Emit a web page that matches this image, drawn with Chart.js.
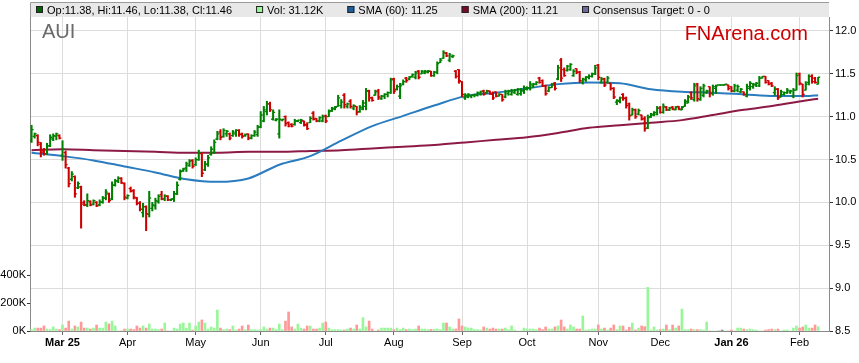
<!DOCTYPE html>
<html>
<head>
<meta charset="utf-8">
<script src="https://cdn.jsdelivr.net/npm/chart.js@4.4.1/dist/chart.umd.min.js"></script>
<style>
  html, body { margin: 0; padding: 0; background: #fff; }
  #wrap { width: 859px; height: 363px; position: relative; }
</style>
</head>
<body>
<div id="wrap"><canvas id="chartCanvas"></canvas></div>
<script>
// AUI daily bars, one entry per trading day (slot index = position on the x axis)
const opens = [
  10.72,10.77,10.78,10.68,10.60,10.57,10.66,10.74,10.77,10.78,
  10.55,10.58,10.40,10.27,10.30,10.17,10.18,10.00,9.97,10.01,
  9.98,10.00,9.97,10.00,10.05,10.10,10.04,10.20,10.25,10.28,
  10.22,10.05,10.16,10.14,10.05,9.99,9.88,9.95,9.86,9.93,
  9.96,10.01,10.09,10.04,10.07,10.03,10.04,10.10,10.27,10.37,
  10.40,10.43,10.49,10.44,10.50,10.57,10.38,10.44,10.56,10.58,
  10.74,10.82,10.77,10.80,10.80,10.78,10.80,10.84,10.80,10.78,
  10.80,10.75,10.78,10.79,10.88,10.95,11.06,11.15,10.97,10.96,
  10.80,10.96,11.00,10.93,10.91,10.91,10.95,10.93,10.95,10.90,
  10.93,11.04,10.98,10.95,10.95,11.01,11.00,11.07,11.09,11.12,
  11.13,11.25,11.12,11.18,11.10,11.12,11.06,11.09,11.12,11.30,
  11.22,11.25,11.30,11.21,11.24,11.26,11.28,11.44,11.32,11.24,
  11.38,11.45,11.44,11.47,11.46,11.53,11.50,11.51,11.52,11.53,
  11.48,11.52,11.63,11.68,11.74,11.66,11.70,11.53,11.55,11.41,
  11.22,11.23,11.24,11.25,11.25,11.27,11.30,11.28,11.30,11.26,
  11.29,11.24,11.26,11.23,11.27,11.26,11.28,11.26,11.27,11.30,
  11.32,11.33,11.36,11.38,11.45,11.42,11.36,11.30,11.34,11.39,
  11.44,11.66,11.55,11.54,11.55,11.48,11.56,11.52,11.40,11.43,
  11.46,11.47,11.50,11.60,11.40,11.44,11.40,11.39,11.33,11.17,
  11.18,11.26,11.22,11.15,11.02,11.08,11.03,11.02,10.98,10.87,
  11.00,11.02,11.03,11.10,11.05,11.11,11.08,11.11,11.08,11.12,
  11.08,11.12,11.16,11.28,11.20,11.38,11.20,11.25,11.28,11.35,
  11.27,11.33,11.37,11.37,11.37,11.37,11.35,11.30,11.31,11.29,
  11.29,11.24,11.33,11.35,11.37,11.36,11.45,11.47,11.42,11.39,
  11.28,11.32,11.23,11.26,11.28,11.29,11.24,11.31,11.50,11.38,
  11.31,11.40,11.47,11.45,11.38
];
const highs = [
  10.90,10.81,10.79,10.70,10.63,10.69,10.79,10.80,10.81,10.79,
  10.72,10.60,10.41,10.36,10.31,10.24,10.19,10.02,10.10,10.02,
  10.03,10.01,10.03,10.07,10.15,10.11,10.24,10.27,10.30,10.29,
  10.23,10.09,10.18,10.15,10.06,10.01,9.99,9.96,10.13,10.00,
  10.05,10.09,10.13,10.09,10.08,10.04,10.13,10.24,10.38,10.40,
  10.47,10.50,10.50,10.52,10.61,10.58,10.48,10.55,10.65,10.73,
  10.83,10.85,10.86,10.84,10.81,10.84,10.85,10.85,10.81,10.80,
  10.80,10.79,10.84,10.90,11.06,11.12,11.18,11.17,11.08,10.98,
  11.08,10.97,11.01,10.94,10.92,10.97,10.96,10.97,10.95,10.93,
  11.00,11.06,10.98,11.00,11.02,11.02,11.08,11.11,11.12,11.25,
  11.20,11.27,11.16,11.20,11.14,11.12,11.13,11.19,11.33,11.31,
  11.23,11.31,11.32,11.25,11.27,11.29,11.45,11.45,11.37,11.39,
  11.43,11.46,11.47,11.50,11.53,11.54,11.54,11.54,11.54,11.53,
  11.53,11.64,11.68,11.77,11.75,11.74,11.72,11.54,11.55,11.41,
  11.27,11.27,11.25,11.26,11.29,11.30,11.31,11.31,11.30,11.29,
  11.29,11.27,11.26,11.31,11.31,11.32,11.32,11.33,11.33,11.36,
  11.35,11.41,11.39,11.41,11.46,11.43,11.37,11.35,11.39,11.40,
  11.60,11.68,11.57,11.60,11.62,11.55,11.56,11.53,11.45,11.47,
  11.49,11.51,11.60,11.61,11.46,11.45,11.47,11.39,11.34,11.20,
  11.23,11.27,11.23,11.16,11.10,11.09,11.09,11.02,11.00,11.02,
  11.04,11.06,11.12,11.12,11.15,11.12,11.11,11.12,11.12,11.12,
  11.12,11.20,11.25,11.29,11.39,11.39,11.35,11.38,11.31,11.35,
  11.37,11.37,11.37,11.37,11.38,11.37,11.35,11.38,11.37,11.33,
  11.29,11.38,11.41,11.39,11.40,11.47,11.47,11.47,11.42,11.40,
  11.35,11.33,11.31,11.29,11.33,11.31,11.33,11.51,11.51,11.38,
  11.41,11.49,11.49,11.46,11.46
];
const lows = [
  10.70,10.75,10.66,10.53,10.55,10.56,10.65,10.72,10.73,10.74,
  10.49,10.40,10.18,10.25,10.06,10.16,9.70,9.96,9.95,9.96,
  9.97,9.95,9.96,9.99,10.03,10.00,10.03,10.19,10.23,10.22,
  10.03,10.04,10.12,10.04,9.97,9.90,9.83,9.67,9.83,9.90,
  9.92,9.99,10.03,10.02,10.02,10.02,10.01,10.09,10.26,10.36,
  10.36,10.42,10.40,10.43,10.49,10.30,10.37,10.42,10.55,10.57,
  10.73,10.73,10.76,10.77,10.73,10.77,10.77,10.77,10.75,10.77,
  10.73,10.74,10.77,10.77,10.87,10.94,11.02,11.06,10.96,10.95,
  10.75,10.95,10.89,10.88,10.88,10.90,10.94,10.92,10.89,10.85,
  10.93,10.96,10.94,10.94,10.94,10.93,11.00,11.06,11.08,11.12,
  11.10,11.10,11.10,11.10,11.08,11.02,11.05,11.08,11.08,11.18,
  11.18,11.25,11.20,11.20,11.21,11.23,11.27,11.27,11.31,11.21,
  11.37,11.40,11.43,11.46,11.44,11.44,11.50,11.50,11.51,11.47,
  11.47,11.50,11.63,11.68,11.70,11.64,11.69,11.45,11.39,11.23,
  11.20,11.22,11.22,11.23,11.24,11.25,11.25,11.27,11.26,11.20,
  11.23,11.24,11.18,11.22,11.25,11.25,11.27,11.25,11.25,11.27,
  11.31,11.31,11.34,11.37,11.39,11.35,11.25,11.29,11.34,11.31,
  11.43,11.41,11.47,11.53,11.54,11.47,11.50,11.40,11.38,11.41,
  11.44,11.46,11.49,11.43,11.39,11.35,11.39,11.31,11.21,11.14,
  11.16,11.19,11.10,10.96,11.02,10.98,11.02,10.96,10.83,10.86,
  10.99,11.01,11.02,11.04,11.04,11.07,11.07,11.08,11.08,11.08,
  11.08,11.12,11.16,11.20,11.18,11.18,11.19,11.23,11.27,11.23,
  11.25,11.27,11.37,11.37,11.37,11.31,11.29,11.29,11.29,11.28,
  11.25,11.23,11.31,11.33,11.35,11.35,11.45,11.39,11.37,11.35,
  11.25,11.20,11.23,11.25,11.27,11.27,11.22,11.31,11.37,11.23,
  11.31,11.37,11.39,11.39,11.38
];
const closes = [
  10.85,10.80,10.70,10.58,10.57,10.66,10.76,10.78,10.80,10.75,
  10.62,10.44,10.22,10.33,10.10,10.22,9.98,9.97,10.02,9.97,
  10.02,9.96,10.01,10.05,10.12,10.02,10.20,10.25,10.28,10.23,
  10.06,10.08,10.13,10.06,9.99,9.92,9.95,9.87,10.05,9.97,
  10.02,10.07,10.04,10.08,10.03,10.04,10.10,10.20,10.36,10.39,
  10.45,10.48,10.42,10.50,10.58,10.34,10.45,10.52,10.62,10.70,
  10.80,10.76,10.84,10.83,10.75,10.82,10.84,10.79,10.77,10.79,
  10.75,10.78,10.82,10.88,11.02,11.08,11.15,11.08,11.05,10.97,
  10.97,10.97,10.92,10.89,10.89,10.95,10.96,10.96,10.91,10.86,
  10.98,10.97,10.95,10.99,11.00,10.95,11.06,11.10,11.11,11.22,
  11.17,11.14,11.15,11.12,11.13,11.05,11.11,11.16,11.30,11.22,
  11.19,11.29,11.23,11.24,11.26,11.28,11.43,11.30,11.35,11.36,
  11.41,11.42,11.46,11.49,11.51,11.46,11.53,11.53,11.53,11.48,
  11.52,11.62,11.66,11.75,11.71,11.72,11.71,11.47,11.42,11.26,
  11.25,11.26,11.25,11.26,11.28,11.29,11.26,11.30,11.27,11.22,
  11.24,11.26,11.20,11.29,11.30,11.30,11.31,11.32,11.31,11.34,
  11.34,11.38,11.38,11.40,11.40,11.36,11.27,11.34,11.37,11.33,
  11.57,11.45,11.48,11.59,11.61,11.53,11.52,11.42,11.44,11.46,
  11.47,11.50,11.57,11.46,11.44,11.37,11.45,11.33,11.23,11.19,
  11.22,11.21,11.13,11.01,11.08,11.00,11.07,10.97,10.86,10.99,
  11.03,11.05,11.10,11.05,11.12,11.08,11.10,11.09,11.11,11.09,
  11.11,11.18,11.23,11.22,11.36,11.21,11.33,11.36,11.30,11.27,
  11.35,11.36,11.37,11.37,11.38,11.33,11.30,11.36,11.35,11.32,
  11.26,11.35,11.39,11.38,11.39,11.45,11.47,11.40,11.38,11.36,
  11.32,11.22,11.29,11.28,11.31,11.30,11.31,11.48,11.39,11.26,
  11.38,11.47,11.41,11.40,11.46
];
// volume in thousands of shares
const volumes = [
  10,21,21,21,36,14,10,29,14,10,
  43,21,71,14,36,29,64,21,21,14,
  21,43,21,21,64,50,71,36,0,0,
  14,14,14,10,36,21,36,21,50,14,
  14,10,14,57,0,0,21,14,50,57,
  21,57,7,36,64,79,57,14,29,21,
  150,21,10,14,10,36,7,14,36,10,
  43,10,10,7,10,29,14,21,21,10,
  50,10,71,136,29,14,50,21,14,36,
  36,14,14,21,57,64,21,10,10,10,
  7,7,14,21,14,43,14,95,29,71,
  14,0,7,21,21,21,21,10,21,10,
  21,10,14,10,14,36,14,14,10,12,
  12,14,10,57,57,29,14,14,86,36,
  29,21,21,10,10,7,29,21,14,21,
  14,14,14,21,10,36,7,0,0,21,
  14,14,14,10,21,10,29,14,14,29,
  36,79,29,14,43,29,14,14,107,7,
  10,14,14,43,14,21,7,21,43,10,
  36,36,7,26,57,7,21,36,31,312,
  7,29,7,10,14,43,10,43,21,36,
  157,10,10,14,10,10,10,7,64,0,
  0,0,0,7,0,0,7,0,21,21,
  14,10,14,10,7,0,0,7,10,14,
  10,14,0,7,7,0,21,36,21,29,
  43,21,21,43,31.12
];

// moving averages every 10 bars
const smaSlots = [0,10,20,30,40,50,60,70,80,90,100,110,120,130,140,150,160,170,180,190,200,210,220,230,240,250,254];
const sma60 = [10.58,10.54,10.49,10.42,10.35,10.27,10.24,10.28,10.44,10.54,10.72,10.89,11.01,11.13,11.24,11.28,11.33,11.38,11.40,11.39,11.32,11.29,11.28,11.26,11.24,11.24,11.25];
const sma200 = [10.61,10.62,10.61,10.60,10.59,10.58,10.58,10.59,10.59,10.60,10.61,10.63,10.65,10.67,10.70,10.73,10.76,10.81,10.87,10.90,10.93,10.96,11.02,11.08,11.13,11.19,11.21];
const consensusTarget = [0, 0];

const monthLabels = ['Mar 25','Apr','May','Jun','Jul','Aug','Sep','Oct','Nov','Dec','Jan 26','Feb'];
const monthStarts = [10,31,53,74,95,117,139,160,183,203,226,248];
const priceTicks = [8.5,9.0,9.5,10.0,10.5,11.0,11.5,12.0];
const volumeTicks = [0,200,400];

const FONT = '"Liberation Sans", Arial, sans-serif';
const UP = '#008000', DOWN = '#cc0000';
const VOL_UP = '#99f799', VOL_DOWN = '#ff9999', VOL_FLAT = '#808080';

function barColor(i) { return closes[i] >= opens[i] ? UP : DOWN; }
function volColor(i) {
  if (closes[i] > opens[i]) return VOL_UP;
  if (closes[i] < opens[i]) return VOL_DOWN;
  return VOL_FLAT;
}

// open tick on the left, close tick on the right of every high-low bar
const ohlcTicks = {
  id: 'ohlcTicks',
  afterDatasetsDraw(chart) {
    const { ctx, chartArea } = chart;
    const x = chart.scales.x, y = chart.scales.y;
    ctx.save();
    ctx.beginPath();
    ctx.rect(chartArea.left, chartArea.top, chartArea.width, chartArea.height);
    ctx.clip();
    ctx.lineWidth = 1.3;
    closes.forEach((c, i) => {
      const px = x.getPixelForValue(i);
      const yo = y.getPixelForValue(opens[i]);
      const yc = y.getPixelForValue(c);
      ctx.strokeStyle = barColor(i);
      ctx.beginPath();
      ctx.moveTo(px - 2, yo); ctx.lineTo(px, yo);
      ctx.moveTo(px, yc); ctx.lineTo(px + 2, yc);
      ctx.stroke();
    });
    ctx.restore();
  }
};

// legend strip, ticker and site name
const header = {
  id: 'header',
  beforeDatasetsDraw(chart) {
    const { ctx, chartArea } = chart;
    ctx.save();
    ctx.textBaseline = 'alphabetic';
    ctx.font = '20px ' + FONT;
    ctx.fillStyle = '#6a6a6a';
    ctx.textAlign = 'left';
    ctx.fillText('AUI', chartArea.left + 12, 38);
    ctx.font = '20px ' + FONT;
    ctx.fillStyle = '#cc0000';
    ctx.textAlign = 'right';
    ctx.fillText('FNArena.com', 808, 40);
    ctx.restore();
  },
  afterDraw(chart) {
    const { ctx, chartArea } = chart;
    const last = closes.length - 1;
    const items = [
      { color: '#006400', text: 'Op:' + opens[last].toFixed(2) + ', Hi:' + highs[last].toFixed(2) + ', Lo:' + lows[last].toFixed(2) + ', Cl:' + closes[last].toFixed(2) },
      { color: '#99f799', text: 'Vol: ' + volumes[last].toFixed(2) + 'K' },
      { color: '#1c5f9e', text: 'SMA (60): ' + sma60[sma60.length - 1].toFixed(2) },
      { color: '#7a0a2a', text: 'SMA (200): ' + sma200[sma200.length - 1].toFixed(2) },
      { color: '#6c6c9c', text: 'Consensus Target: ' + consensusTarget[0] + ' - ' + consensusTarget[1] }
    ];
    ctx.save();
    ctx.fillStyle = '#e8e8e8';
    ctx.fillRect(chartArea.left, 3, chartArea.right - chartArea.left, 14);
    ctx.strokeStyle = '#9a9a9a';
    ctx.lineWidth = 1;
    ctx.beginPath();
    ctx.moveTo(chartArea.left + 0.5, 17);
    ctx.lineTo(chartArea.left + 0.5, 2.5);
    ctx.lineTo(chartArea.right, 2.5);
    ctx.stroke();
    ctx.font = '11px ' + FONT;
    ctx.textBaseline = 'middle';
    ctx.textAlign = 'left';
    let px = chartArea.left + 6;
    items.forEach(it => {
      ctx.fillStyle = it.color;
      ctx.fillRect(px, 6, 7, 7);
      ctx.strokeStyle = '#222';
      ctx.strokeRect(px + 0.5, 6.5, 6, 6);
      ctx.fillStyle = '#000';
      ctx.fillText(it.text, px + 11, 10.5);
      px += 11 + ctx.measureText(it.text).width + 24;
    });
    ctx.restore();
  }
};

const ctx = document.getElementById('chartCanvas').getContext('2d');
new Chart(ctx, {
  type: 'bar',
  data: {
    datasets: [
      {
        type: 'line',
        label: 'SMA (60)',
        data: smaSlots.map((s, k) => ({ x: s, y: sma60[k] })),
        yAxisID: 'y',
        borderColor: '#2a7cbf',
        borderWidth: 2,
        pointRadius: 0,
        cubicInterpolationMode: 'monotone',
        order: 3
      },
      {
        type: 'line',
        label: 'SMA (200)',
        data: smaSlots.map((s, k) => ({ x: s, y: sma200[k] })),
        yAxisID: 'y',
        borderColor: '#8c1a44',
        borderWidth: 2,
        pointRadius: 0,
        cubicInterpolationMode: 'monotone',
        order: 4
      },
      {
        label: 'Price',
        data: highs.map((h, i) => ({ x: i, y: [lows[i], h] })),
        yAxisID: 'y',
        backgroundColor: highs.map((h, i) => barColor(i)),
        barThickness: 1.4,
        grouped: false,
        order: 1
      },
      {
        label: 'Volume',
        data: volumes.map((v, i) => ({ x: i, y: v })),
        yAxisID: 'yVol',
        backgroundColor: volumes.map((v, i) => volColor(i)),
        barThickness: 2,
        grouped: false,
        order: 5
      }
    ]
  },
  options: {
    responsive: true,
    maintainAspectRatio: false,
    animation: false,
    devicePixelRatio: 1,
    layout: { padding: { top: 17, left: 0, right: 0, bottom: 0 } },
    plugins: { legend: { display: false }, tooltip: { enabled: false } },
    scales: {
      x: {
        type: 'linear',
        offset: false,
        min: -0.5,
        max: 257.5,
        afterBuildTicks: s => { s.ticks = monthStarts.map(v => ({ value: v })); },
        afterFit: s => { s.height = 32; },
        ticks: {
          autoSkip: false,
          maxRotation: 0,
          padding: 1,
          color: '#000',
          font: c => ({ family: FONT, size: 11, weight: /\d/.test(monthLabels[c.index] || '') ? 'bold' : 'normal' }),
          callback: (v, i) => monthLabels[i]
        },
        grid: { offset: false, color: '#dcdcdc', tickLength: 4, tickColor: '#666' },
        border: { color: '#8a8a8a' }
      },
      y: {
        position: 'right',
        min: 8.5,
        max: 12.163,
        afterBuildTicks: s => { s.ticks = priceTicks.map(v => ({ value: v })); },
        afterFit: s => { s.width = 30; },
        ticks: {
          padding: 2,
          color: '#000',
          font: { family: FONT, size: 11 },
          callback: v => v.toFixed(1)
        },
        grid: { color: '#dcdcdc', tickLength: 4, tickColor: '#333' },
        border: { color: '#8a8a8a' }
      },
      yVol: {
        position: 'left',
        min: 0,
        max: 2245,
        afterBuildTicks: s => { s.ticks = volumeTicks.map(v => ({ value: v })); },
        afterFit: s => { s.width = 30; },
        ticks: {
          padding: 1,
          color: '#000',
          font: { family: FONT, size: 11 },
          callback: v => v + 'K'
        },
        grid: { drawOnChartArea: false, tickLength: 3, tickColor: '#333' },
        border: { color: '#8a8a8a' }
      }
    }
  },
  plugins: [header, ohlcTicks]
});
</script>
</body>
</html>
